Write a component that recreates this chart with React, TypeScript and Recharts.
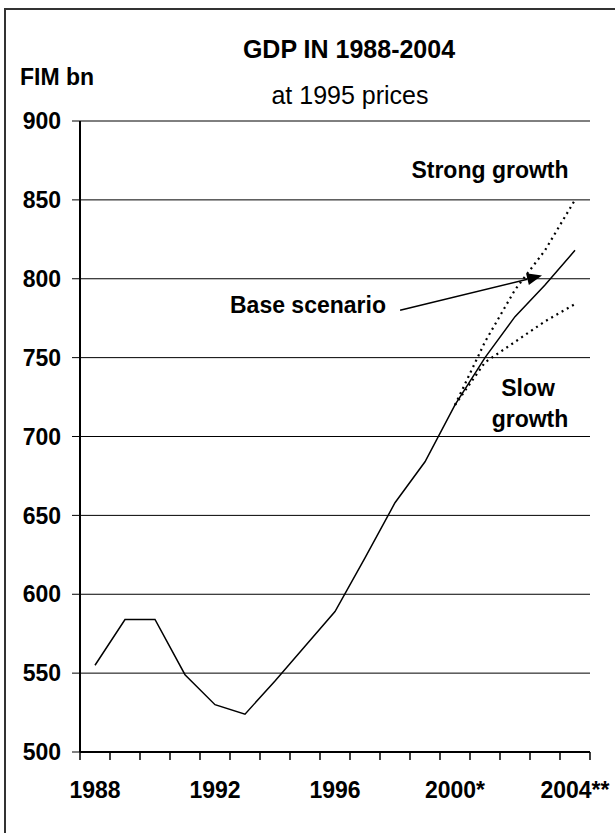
import { LineChart, Line, XAxis, YAxis, CartesianGrid, ReferenceLine } from 'recharts'

// GDP at 1995 prices, FIM bn
const years = ['1988', '1989', '1990', '1991', '1992', '1993', '1994', '1995', '1996', '1997', '1998', '1999', '2000', '2001', '2002', '2003', '2004']
const baseScenario = [555, 584, 584, 549, 530, 524, 545, 567, 589, 623, 658, 684, 720, 750, 776, 796, 818]
const strongGrowth = [null, null, null, null, null, null, null, null, null, null, null, null, 720, 760, 793, 818, 850]
const slowGrowth = [null, null, null, null, null, null, null, null, null, null, null, null, 720, 747, 760, 773, 784]
const yTicks = [500, 550, 600, 650, 700, 750, 800, 850, 900]
const yearLabels: Record<string, string> = { '1988': '1988', '1992': '1992', '1996': '1996', '2000': '2000*', '2004': '2004**' }

// arrow from the "Base scenario" label, in band units / FIM bn
const arrowFrom = { x: 10.67, y: 780 }
const arrowTo = { x: 15.4, y: 802 }

const FONT = '"Liberation Sans", Arial, sans-serif'

const rows = years.map((year, i) => ({
    year,
    pos: i + 0.5,
    base: baseScenario[i],
    strong: strongGrowth[i],
    slow: slowGrowth[i],
}))

// tick marks sit between the year bands, labels only on some years
function YearTick(props: any) {
    const { x, y, payload, index, visibleTicksCount } = props
    const half = payload && payload.offset ? payload.offset : 15
    const top = y - 30
    const label = yearLabels[payload.value]
    return (
        <g>
            <line x1={x - half} x2={x - half} y1={top} y2={top + 8} stroke="#000" strokeWidth={1.5} />
            {index === visibleTicksCount - 1 && (
                <line x1={x + half} x2={x + half} y1={top} y2={top + 8} stroke="#000" strokeWidth={1.5} />
            )}
            {label && (
                <text x={x} y={y} dy="0.71em" textAnchor="middle" fontFamily={FONT} fontSize={23} fontWeight="bold" fill="#000">
                    {label}
                </text>
            )}
        </g>
    )
}

function Arrow(props: any) {
    const { x1, y1, x2, y2 } = props
    const ang = Math.atan2(y2 - y1, x2 - x1)
    const len = 15
    const w = 6
    const bx = x2 - len * Math.cos(ang)
    const by = y2 - len * Math.sin(ang)
    const px = -Math.sin(ang) * w
    const py = Math.cos(ang) * w
    return (
        <g>
            <line x1={x1} y1={y1} x2={bx} y2={by} stroke="#000" strokeWidth={1.5} />
            <polygon points={`${x2},${y2} ${bx + px},${by + py} ${bx - px},${by - py}`} fill="#000" />
        </g>
    )
}

export default function App() {
    return (
        <div style={{ position: 'absolute', left: 0, top: 0, width: 615, height: 833, overflow: 'hidden', background: '#fff' }}>
            <div style={{ position: 'absolute', left: 4, top: 8, width: 700, height: 900, borderLeft: '2px solid #333', borderTop: '2px solid #333' }} />
            <div style={{ position: 'absolute', left: 0, top: 0 }}>
                <LineChart width={615} height={833} data={rows} margin={{ top: 121, right: 25, bottom: 21, left: 0 }}>
                    <CartesianGrid vertical={false} stroke="#000" strokeWidth={1} />
                    <XAxis
                        dataKey="year"
                        scale="band"
                        interval={0}
                        height={60}
                        tickLine={false}
                        tickSize={8}
                        tickMargin={22}
                        axisLine={{ stroke: '#000', strokeWidth: 2 }}
                        tick={<YearTick />}
                    />
                    {/* hidden helper axis in band units, used for the arrow */}
                    <XAxis xAxisId="u" dataKey="pos" type="number" domain={[0, 17]} allowDataOverflow hide />
                    <YAxis
                        domain={[500, 900]}
                        ticks={yTicks}
                        width={80}
                        tickSize={8}
                        tickMargin={11}
                        tickLine={{ stroke: '#000' }}
                        axisLine={{ stroke: '#000', strokeWidth: 2 }}
                        tick={{ fill: '#000', fontSize: 23, fontWeight: 'bold', fontFamily: FONT }}
                    />
                    <YAxis
                        yAxisId="r"
                        orientation="right"
                        domain={[500, 900]}
                        width={0}
                        tick={false}
                        tickLine={false}
                        axisLine={{ stroke: '#000', strokeWidth: 1.5 }}
                    />
                    <Line dataKey="base" stroke="#000" strokeWidth={1.5} dot={false} isAnimationActive={false} />
                    <Line dataKey="strong" stroke="#000" strokeWidth={2.2} strokeDasharray="2 4" dot={false} isAnimationActive={false} />
                    <Line dataKey="slow" stroke="#000" strokeWidth={2.2} strokeDasharray="2 4" dot={false} isAnimationActive={false} />
                    <ReferenceLine
                        xAxisId="u"
                        segment={[arrowFrom, arrowTo]}
                        shape={<Arrow />}
                        ifOverflow="visible"
                    />
                </LineChart>
            </div>
            <svg width={615} height={833} style={{ position: 'absolute', left: 0, top: 0, pointerEvents: 'none' }}>
                <g fontFamily={FONT} fill="#000">
                    <text x={349} y={58} textAnchor="middle" fontSize={25} fontWeight="bold">GDP IN 1988-2004</text>
                    <text x={20} y={85} fontSize={23} fontWeight="bold">FIM bn</text>
                    <text x={350} y={104} textAnchor="middle" fontSize={25}>at 1995 prices</text>
                    <text x={490} y={178} textAnchor="middle" fontSize={23} fontWeight="bold">Strong growth</text>
                    <text x={308} y={313} textAnchor="middle" fontSize={23} fontWeight="bold">Base scenario</text>
                    <text x={528} y={396} textAnchor="middle" fontSize={23} fontWeight="bold">Slow</text>
                    <text x={530} y={427} textAnchor="middle" fontSize={23} fontWeight="bold">growth</text>
                </g>
            </svg>
        </div>
    )
}
